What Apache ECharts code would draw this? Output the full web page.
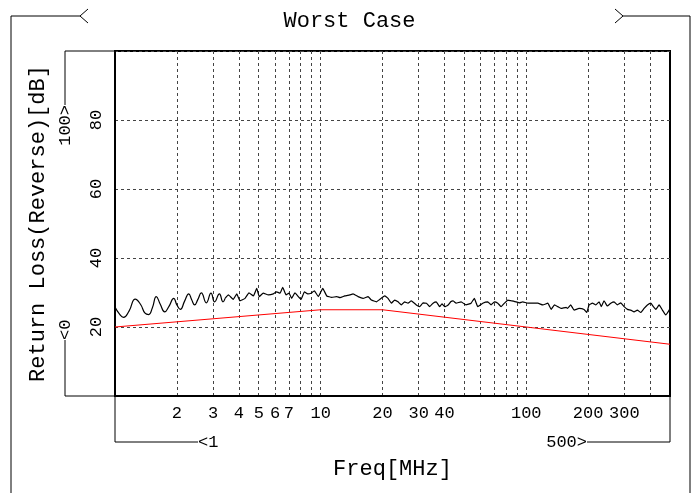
<!DOCTYPE html>
<html><head><meta charset="utf-8">
<script src="https://cdn.jsdelivr.net/npm/echarts@6/dist/echarts.min.js"></script>
<style>html,body{margin:0;padding:0;background:#fff}#c{width:699px;height:493px}</style>
</head><body><div id="c"></div>
<script>
// ---- data ----
const titleText = 'Worst Case';
const xName = 'Freq[MHz]';
const yName = 'Return Loss(Reverse)[dB]';
const xMin = 1, xMax = 500;
const yMin = 0, yMax = 100, yStep = 20;
const xTickLabels = [2, 3, 4, 5, 6, 7, 10, 20, 30, 40, 100, 200, 300];
const xGridValues = [2, 3, 4, 5, 6, 7, 8, 9, 10, 20, 30, 40, 50, 60, 70, 80, 90, 100, 200, 300, 400];
const yTickLabels = [20, 40, 60, 80];
const limitFreq = [1, 10, 20, 100, 500];
const limitLoss = [20, 25, 25, 20, 15];
const rippleEndFreq = 3.43; // the smooth low-frequency ripple ends here
const measFreq = [1.00,1.05,1.10,1.17,1.255,1.33,1.40,1.458,1.52,1.588,1.66,1.745,1.83,1.93,2.00,2.078,2.18,2.283,2.36,2.44,2.53,2.63,2.78,2.93,3.05,3.22,3.35,3.43,3.56,3.76,3.91,4.05,4.29,4.48,4.71,4.89,5.03,5.26,5.57,5.89,6.11,6.35,6.54,6.79,7.02,7.23,7.50,7.79,8.03,8.34,8.66,8.98,9.32,9.75,10.24,10.71,11.33,11.98,12.42,13.09,13.86,14.38,15.21,16.08,17.0,17.66,18.68,19.38,20.5,21.27,22.08,22.9,23.78,24.7,25.6,26.6,27.6,29.2,30.3,31.5,32.7,33.9,35.2,36.5,37.9,38.9,40.1,41.7,42.9,44.0,45.6,48.2,50.9,53.9,55.9,58.1,61.4,65.0,67.4,70.0,72.7,75.4,78.3,81.3,84.4,89.2,92.6,96.1,101.7,107.6,113.8,120.3,127.3,132.1,137.1,142.4,147.6,156.2,158.5,164.5,170.9,180.6,191.0,196.9,202.0,209.7,217.8,226.0,231.8,238.9,247.9,257.6,267.3,277.4,288.1,299.1,310.4,322.3,334.4,346.7,360.4,374.1,388.2,403.6,415.0,426.6,442.6,459.2,476.6,495.5,500];
const measLoss = [25.8,23.8,22.8,24.6,28.1,26.6,24.0,23.6,25.6,28.8,26.6,24.4,26.0,28.3,26.4,25.1,27.5,29.6,27.9,26.4,28.0,29.9,27.0,29.8,27.3,29.6,27.3,28.3,29.3,28.0,29.6,27.6,28.3,29.9,29.0,31.2,28.8,29.8,29.3,29.6,30.2,29.8,31.5,29.3,29.8,28.3,29.9,28.8,28.0,30.2,29.6,29.8,30.5,28.8,31.2,29.0,28.6,28.8,28.5,29.0,29.3,29.6,28.8,28.3,28.8,27.8,27.3,28.0,29.0,28.3,26.9,27.8,27.3,26.4,27.3,26.9,27.6,26.4,25.9,27.0,26.9,25.9,26.9,27.3,25.9,26.7,25.9,26.4,27.3,27.6,26.9,27.3,26.4,26.9,28.3,25.9,26.9,27.3,26.4,27.3,26.9,25.9,26.9,27.8,27.6,27.3,27.0,27.3,26.9,26.9,26.9,26.4,26.9,25.1,26.4,25.9,25.4,25.7,25.4,26.4,24.9,25.4,25.1,24.2,26.4,26.9,26.4,27.3,25.9,27.6,26.1,26.9,27.3,26.4,27.0,25.9,25.1,24.9,24.4,24.9,24.2,25.4,26.4,26.9,25.9,25.1,26.4,24.9,23.5,24.9,25.5];

// ---- chart ----
const FONT = '"Liberation Mono", "DejaVu Sans Mono", monospace';
const chart = echarts.init(document.getElementById('c'), null, {renderer: 'canvas'});
const measData = measFreq.map((f, i) => [f, measLoss[i]]);
const rippleData = measData.filter(d => d[0] <= rippleEndFreq);
const noiseData = measData.filter(d => d[0] >= rippleEndFreq);
const limitData = limitFreq.map((f, i) => [f, limitLoss[i]]);
const gridStyle = {color: '#444', type: [3, 3], width: 1};
const traceStyle = {color: '#000', width: 1.2};

chart.setOption({
  animation: false,
  backgroundColor: '#fff',
  title: {text: titleText, left: 'center', top: 5,
    textStyle: {fontFamily: FONT, fontSize: 22, fontWeight: 'normal', color: '#000'}},
  grid: {left: 115, right: 29, top: 51, bottom: 97, show: true, borderColor: '#000', borderWidth: 2},
  xAxis: {
    type: 'log', logBase: 10, min: xMin, max: xMax,
    name: xName, nameLocation: 'middle', nameGap: 62,
    nameTextStyle: {fontFamily: FONT, fontSize: 22, color: '#000'},
    axisLine: {show: true, lineStyle: {color: '#000', width: 2}},
    axisTick: {show: false, customValues: xGridValues},
    axisLabel: {customValues: xTickLabels, margin: 9, fontFamily: FONT, fontSize: 17, color: '#000'},
    splitLine: {show: true, lineStyle: gridStyle}
  },
  yAxis: {
    type: 'value', min: yMin, max: yMax, interval: yStep,
    name: yName, nameLocation: 'middle', nameGap: 66, nameRotate: 90,
    nameTextStyle: {fontFamily: FONT, fontSize: 22, color: '#000'},
    axisLine: {show: true, lineStyle: {color: '#000', width: 2}},
    axisTick: {show: false},
    axisLabel: {customValues: yTickLabels, rotate: 90, margin: 10, fontFamily: FONT, fontSize: 17, color: '#000'},
    splitLine: {show: true, lineStyle: gridStyle}
  },
  series: [
    {type: 'line', data: rippleData, symbol: 'none', smooth: 0.5, lineStyle: traceStyle, z: 3},
    {type: 'line', data: noiseData, symbol: 'none', smooth: 0.1, lineStyle: traceStyle, z: 3},
    {type: 'line', data: limitData, symbol: 'none',
      lineStyle: {color: '#ff0000', width: 1}, z: 4}
  ]
});

// ---- bracket annotations anchored on the axis extents ----
const pLB = chart.convertToPixel({gridIndex: 0}, [xMin, yMin]);
const pRT = chart.convertToPixel({gridIndex: 0}, [xMax, yMax]);
const L = pLB[0], B = pLB[1], R = pRT[0], T = pRT[1];
const W = 699, H = 493;
const lineSt = {stroke: '#000', lineWidth: 1, fill: null};
const txt = (x, y, text, align, rot, size) => ({
  type: 'text', x: x, y: y, rotation: rot || 0,
  style: {text: text, align: align, verticalAlign: 'middle', font: (size || 17) + 'px ' + FONT, fill: '#000'}
});
const yBrX = L - 50, xBrY = B + 46;
chart.setOption({
  graphic: [
    // title brackets
    {type: 'polyline', shape: {points: [[11, H], [11, 16], [80, 16]]}, style: lineSt},
    {type: 'polyline', shape: {points: [[88, 9], [80, 16], [88, 23]]}, style: lineSt},
    {type: 'polyline', shape: {points: [[690, H], [690, 16], [623, 16]]}, style: lineSt},
    {type: 'polyline', shape: {points: [[615, 9], [623, 16], [615, 23]]}, style: lineSt},
    // y extent brackets
    {type: 'polyline', shape: {points: [[L, B], [yBrX, B], [yBrX, B - 56]]}, style: lineSt},
    txt(yBrX, B - 56, '<' + yMin, 'left', Math.PI / 2),
    {type: 'polyline', shape: {points: [[L, T], [yBrX, T], [yBrX, T + 54]]}, style: lineSt},
    txt(yBrX, T + 54, yMax + '>', 'right', Math.PI / 2),
    // x extent brackets
    {type: 'polyline', shape: {points: [[L, B], [L, xBrY], [L + 83, xBrY]]}, style: lineSt},
    txt(L + 83, xBrY, '<' + xMin, 'left', 0),
    {type: 'polyline', shape: {points: [[R, B], [R, xBrY], [R - 83, xBrY]]}, style: lineSt},
    txt(R - 83, xBrY, xMax + '>', 'right', 0)
  ]
});
</script></body></html>
